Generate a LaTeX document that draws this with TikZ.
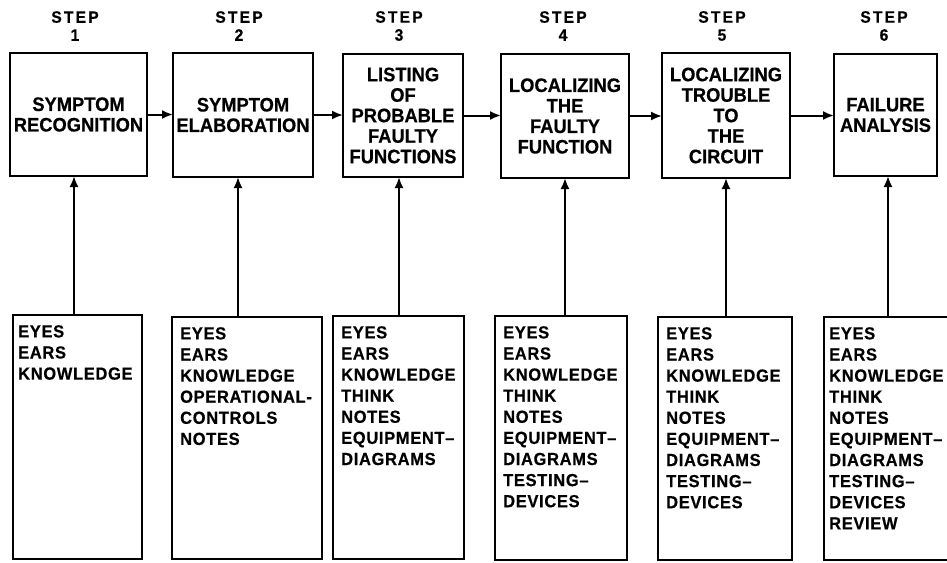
\documentclass[tikz,border=0pt]{standalone}
\usepackage{fontspec}
\setmainfont{Liberation Sans}
\newfontfamily\stepfont{Liberation Sans}[LetterSpace=13, FakeStretch=0.95, FakeBold=0.5]
\newfontfamily\listfont{Liberation Sans}[LetterSpace=4, FakeStretch=0.94, FakeBold=0.5]
\newfontfamily\boxfont{Liberation Sans}[FakeStretch=0.94, FakeBold=0.5]
\usetikzlibrary{arrows.meta}
\tikzset{
 topbox/.style={draw, line width=2.4pt, inner sep=0pt, outer sep=0pt, align=center,
   font=\boxfont\bfseries\fontsize{19.5}{20.5}\selectfont},
 lowbox/.style={draw, line width=2.2pt, inner sep=0pt, outer sep=0pt},
 listtext/.style={anchor=north west, inner sep=0pt, align=left,
   font=\listfont\bfseries\fontsize{17.5}{21.1}\selectfont},
 steplabel/.style={align=center, inner sep=0pt,
   font=\stepfont\bfseries\fontsize{16.5}{18}\selectfont},
 arr/.style={line width=2pt, -{Latex[length=11pt,width=9pt]}},
}
\begin{document}
\begin{tikzpicture}[x=1pt,y=-1pt]
\useasboundingbox[fill=white] (0,0) rectangle (947,562);

% step labels
\node[steplabel] (s1) at (75,26) {STEP\\1};
\node[steplabel] (s2) at (239,26) {STEP\\2};
\node[steplabel] (s3) at (399,26) {STEP\\3};
\node[steplabel] (s4) at (563,26) {STEP\\4};
\node[steplabel] (s5) at (722,26) {STEP\\5};
\node[steplabel] (s6) at (884,26) {STEP\\6};

% top boxes
\node[topbox, minimum width=137, minimum height=123] (t1) at (78.5,114.5) {SYMPTOM\\RECOGNITION};
\node[topbox, minimum width=140, minimum height=124] (t2) at (243,115) {SYMPTOM\\ELABORATION};
\node[topbox, minimum width=120, minimum height=123] (t3) at (403,115.5) {LISTING\\OF\\PROBABLE\\FAULTY\\FUNCTIONS};
\node[topbox, minimum width=128, minimum height=124] (t4) at (565,116) {LOCALIZING\\THE\\FAULTY\\FUNCTION};
\node[topbox, minimum width=128, minimum height=125] (t5) at (726,115.5) {LOCALIZING\\TROUBLE\\TO\\THE\\CIRCUIT};
\node[topbox, minimum width=103, minimum height=122] (t6) at (885.5,115) {FAILURE\\ANALYSIS};

% bottom boxes
\node[lowbox, minimum width=129, minimum height=244] (b1) at (77.5,437) {};
\node[lowbox, minimum width=150, minimum height=242] (b2) at (247,438) {};
\node[lowbox, minimum width=131, minimum height=243] (b3) at (398.5,437.5) {};
\node[lowbox, minimum width=132, minimum height=244] (b4) at (561,438) {};
\node[lowbox, minimum width=134, minimum height=243] (b5) at (725,438.5) {};
\node[lowbox, minimum width=126, minimum height=243] (b6) at (887,438.5) {};

% list texts
\node[listtext] (l1) at ([shift={(5,10)}]b1.north west) {EYES\\EARS\\KNOWLEDGE};
\node[listtext] (l2) at ([shift={(8,10)}]b2.north west) {EYES\\EARS\\KNOWLEDGE\\OPERATIONAL-\\CONTROLS\\NOTES};
\node[listtext] (l3) at ([shift={(8,10)}]b3.north west) {EYES\\EARS\\KNOWLEDGE\\THINK\\NOTES\\EQUIPMENT–\\DIAGRAMS};
\node[listtext] (l4) at ([shift={(8,10)}]b4.north west) {EYES\\EARS\\KNOWLEDGE\\THINK\\NOTES\\EQUIPMENT–\\DIAGRAMS\\TESTING–\\DEVICES};
\node[listtext] (l5) at ([shift={(8,10)}]b5.north west) {EYES\\EARS\\KNOWLEDGE\\THINK\\NOTES\\EQUIPMENT–\\DIAGRAMS\\TESTING–\\DEVICES};
\node[listtext] (l6) at ([shift={(5,10)}]b6.north west) {EYES\\EARS\\KNOWLEDGE\\THINK\\NOTES\\EQUIPMENT–\\DIAGRAMS\\TESTING–\\DEVICES\\REVIEW};

% arrow columns
\coordinate (a1) at (74,0);
\coordinate (a2) at (238,0);
\coordinate (a3) at (399,0);
\coordinate (a4) at (565,0);
\coordinate (a5) at (726,0);
\coordinate (a6) at (888,0);

% vertical connectors
\draw[arr] (a1 |- b1.north) -- (a1 |- t1.south);
\draw[arr] (a2 |- b2.north) -- (a2 |- t2.south);
\draw[arr] (a3 |- b3.north) -- (a3 |- t3.south);
\draw[arr] (a4 |- b4.north) -- (a4 |- t4.south);
\draw[arr] (a5 |- b5.north) -- (a5 |- t5.south);
\draw[arr] (a6 |- b6.north) -- (a6 |- t6.south);

% horizontal connectors
\draw[arr] (t1.east) -- (t1.east -| t2.west);
\draw[arr] (t2.east) -- (t2.east -| t3.west);
\draw[arr] (t3.east) -- (t3.east -| t4.west);
\draw[arr] (t4.east) -- (t4.east -| t5.west);
\draw[arr] (t5.east) -- (t5.east -| t6.west);
\end{tikzpicture}
\end{document}
